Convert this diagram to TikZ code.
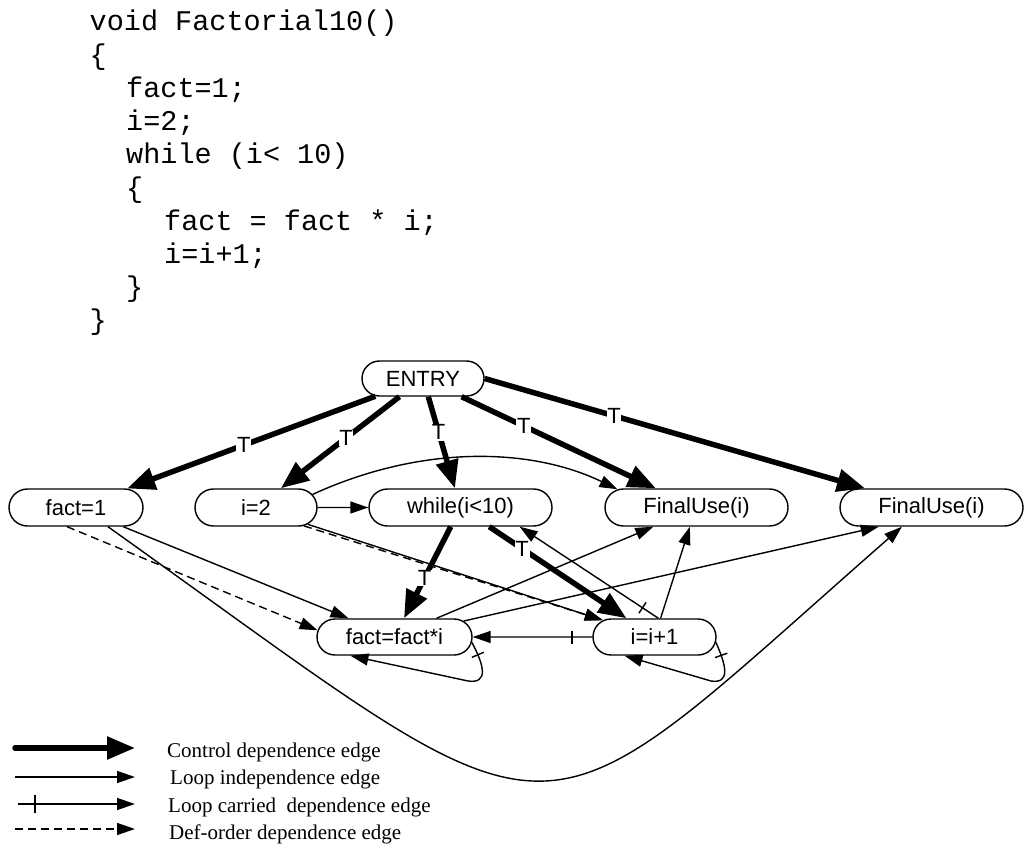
\documentclass[tikz,border=0pt]{standalone}
\usepackage{fontspec}
\setmainfont{Liberation Sans}
\newfontfamily\codefont{Liberation Mono}
\newfontfamily\legfont{Liberation Serif}
\usetikzlibrary{shapes.misc,arrows.meta,decorations.markings}

\tikzset{
  stmt/.style={draw, rounded rectangle, line width=1.4pt, minimum height=37pt,
    inner sep=0pt, font=\fontsize{22}{26}\selectfont},
  ctrl/.style={line width=5.5pt, -{Triangle[length=28pt,width=22pt]}},
  dep/.style={line width=1.4pt, -{Triangle[length=18pt,width=12pt]}},
  deford/.style={dep, dash pattern=on 8pt off 5pt},
  carried/.style 2 args={dep,
    decoration={markings, mark=at position #1 with
      {\draw[-,solid,line width=1.4pt] (0pt,-#2) -- (0pt,#2);}},
    postaction={decorate}},
  tlabel/.style={fill=white, inner sep=0.6pt, font=\fontsize{22}{26}\selectfont},
  codeline/.style={font=\codefont\fontsize{28.5}{30}\selectfont, anchor=base west, inner sep=0pt},
  legtext/.style={font=\legfont\fontsize{21}{24}\selectfont, anchor=base west, inner sep=0pt}
}

\begin{document}
\begin{tikzpicture}[x=1pt,y=-1pt]
\useasboundingbox (0,0) rectangle (1029,848);

% source code
\node[codeline] (c0) at (89.5,31)    {void Factorial10()};
\node[codeline] (c1) at (89.5,64.2)  {\{};
\node[codeline] (c2) at (126,97.4)   {fact=1;};
\node[codeline] (c3) at (126,130.6)  {i=2;};
\node[codeline] (c4) at (126,163.8)  {while (i< 10)};
\node[codeline] (c5) at (126,197)    {\{};
\node[codeline] (c6) at (164,230.2)  {fact = fact * i;};
\node[codeline] (c7) at (164,263.4)  {i=i+1;};
\node[codeline] (c8) at (126,296.6)  {\}};
\node[codeline] (c9) at (89.5,329.8) {\}};

% statements
\node[stmt, minimum height=35pt, minimum width=122pt] (entry) at (423,378.5) {ENTRY};
\node[stmt, minimum width=134pt] (f1)  at (76,507.5)    {fact=1};
\node[stmt, minimum width=122pt] (i2)  at (256,507.5)   {i=2};
\node[stmt, minimum width=183pt] (wh)  at (460.5,507.5) {while(i<10)};
\node[stmt, minimum width=183pt] (fu1) at (696.5,507.5) {FinalUse(i)};
\node[stmt, minimum width=183pt] (fu2) at (931.5,507.5) {FinalUse(i)};
\node[stmt, minimum width=155pt, minimum height=36pt] (fff) at (394.5,637) {fact=fact*i};
\node[stmt, minimum width=123pt, minimum height=36pt] (ii1) at (654.5,637) {i=i+1};

% control dependences
\draw[ctrl] (entry) -- node[tlabel, pos=.53] {T} (f1);
\draw[ctrl] (entry) -- node[tlabel, pos=.45] {T} (i2);
\draw[ctrl] (entry) -- node[tlabel, pos=.39] {T} (wh);
\draw[ctrl] (entry) -- node[tlabel, pos=.32] {T} (fu1);
\draw[ctrl] (entry.east) -- node[tlabel, pos=.34] {T} (fu2);
\draw[ctrl] (wh) -- node[tlabel, pos=.56] {T} (fff);
\draw[ctrl] (wh) -- node[tlabel, pos=.24] {T} (ii1);

% loop independent dependences
\draw[dep] (i2) -- (wh);
\draw[dep] (i2.13) .. controls (420,445) and (530,447) .. (fu1.167);
\draw[dep] (i2) -- (ii1);
\draw[dep] (f1) -- (fff);
\draw[dep] (f1.-31) .. controls (581,864) and (517,864) .. (fu2.-147);
\draw[dep] (fff.24) -- (fu1.-156);
\draw[dep] (fff.13) -- (fu2.-160);
\draw[dep] (ii1.72) -- (fu1.-109);

% def-order dependences
\draw[deford] (i2.-21) -- (ii1.162);
\draw[deford] (f1.-115) -- (fff.175);

% loop carried dependences
\draw[carried={.17}{6.5pt}] (ii1) -- (fff);
\draw[carried={.115}{6.5pt}] (ii1.78) -- (wh.-18);
\draw[carried={.08}{6.5pt}] (fff.-4) .. controls (484,665) and (489,684) .. (468,681) -- (fff.-157);
\draw[carried={.1}{6.5pt}] (ii1.-5) .. controls (726,665) and (731,684) .. (711,681) -- (ii1.-148);

% legend
\coordinate (la1) at (15,748);  \coordinate (lb1) at (135,748);
\coordinate (la2) at (15,777);  \coordinate (lb2) at (135,777);
\coordinate (la3) at (18,804);  \coordinate (lb3) at (135,804);
\coordinate (la4) at (15,829);  \coordinate (lb4) at (135,829);
\draw[ctrl, line cap=round] (la1) -- (lb1);
\draw[dep] (la2) -- (lb2);
\draw[carried={.145}{9pt}] (la3) -- (lb3);
\draw[deford] (la4) -- (lb4);
\node[legtext] (lt1) at (167,757) {Control dependence edge};
\node[legtext] (lt2) at (170,784) {Loop independence edge};
\node[legtext] (lt3) at (168,812) {Loop carried\ \ dependence edge};
\node[legtext] (lt4) at (169,839) {Def-order dependence edge};
\end{tikzpicture}
\end{document}
